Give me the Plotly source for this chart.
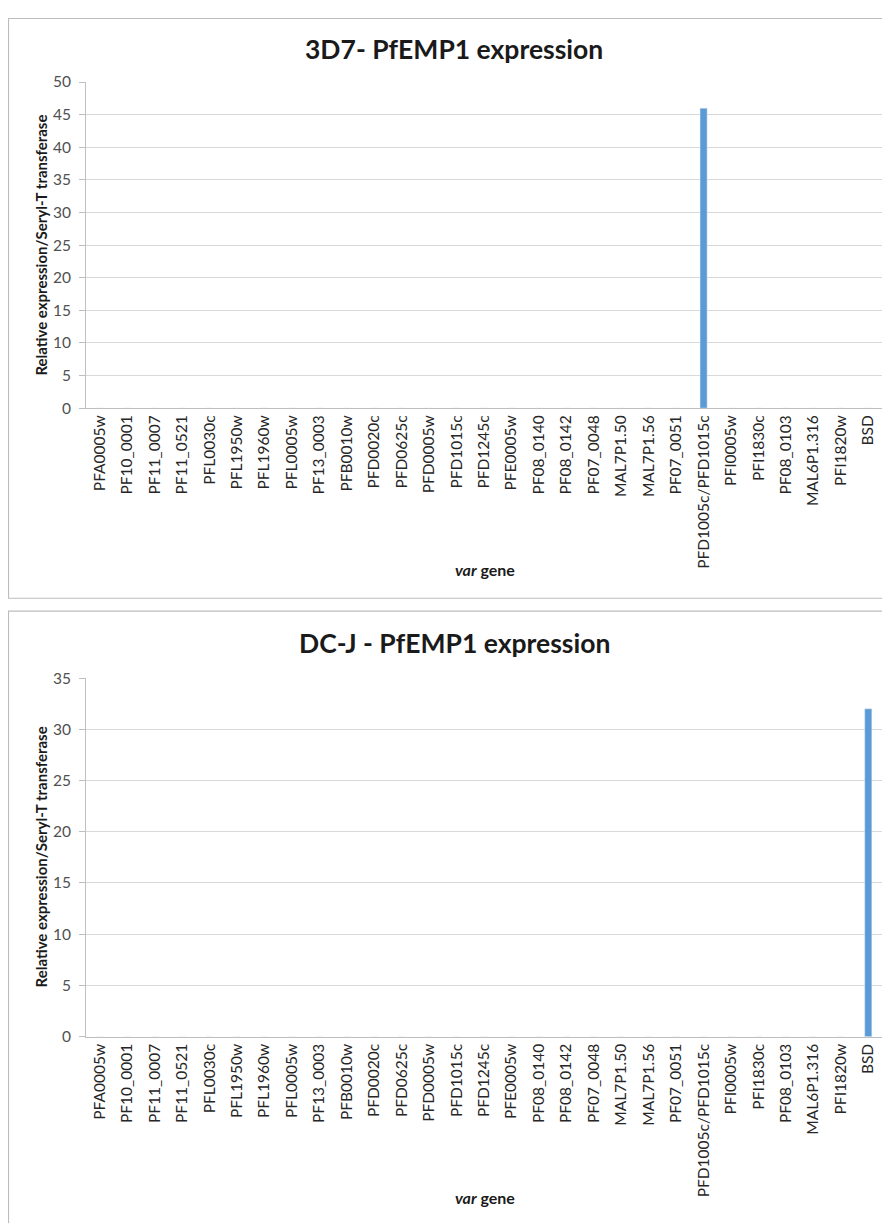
import plotly.graph_objects as go

genes = ["PFA0005w", "PF10_0001", "PF11_0007", "PF11_0521", "PFL0030c", "PFL1950w",
         "PFL1960w", "PFL0005w", "PF13_0003", "PFB0010w", "PFD0020c", "PFD0625c",
         "PFD0005w", "PFD1015c", "PFD1245c", "PFE0005w", "PF08_0140", "PF08_0142",
         "PF07_0048", "MAL7P1.50", "MAL7P1.56", "PF07_0051", "PFD1005c/PFD1015c",
         "PFI0005w", "PFI1830c", "PF08_0103", "MAL6P1.316", "PFI1820w", "BSD"]

expr_3d7 = [0, 0, 0, 0, 0, 0, 0, 0, 0, 0, 0, 0, 0, 0, 0, 0, 0, 0, 0, 0, 0, 0, 46,
            0, 0, 0, 0, 0, 0]
expr_dcj = [0, 0, 0, 0, 0, 0, 0, 0, 0, 0, 0, 0, 0, 0, 0, 0, 0, 0, 0, 0, 0, 0, 0,
            0, 0, 0, 0, 0, 32]

title_top = "3D7- PfEMP1 expression"
title_bot = "DC-J - PfEMP1 expression"
ytitle = "Relative expression/Seryl-T transferase"
xtitle = "<b><i>var</i> gene</b>"

# page body has an 8px margin: figure sized to fit the window
OFF = 8
W, H = 890 - 2 * OFF, 1231 - 2 * OFF
FONT = "Lato, 'Open Sans', sans-serif"
BAR = "#5B9BD5"
GRID = "#D9D9D9"
AXL = "#BFBFBF"

def py(ref_px):
    return 1 - (ref_px - OFF) / H

def px_x(ref_px):
    return (ref_px - OFF) / W

fig = go.Figure()
fig.add_trace(go.Bar(x=genes, y=expr_3d7, marker_color=BAR, width=0.26,
                     xaxis="x", yaxis="y", showlegend=False))
fig.add_trace(go.Bar(x=genes, y=expr_dcj, marker_color=BAR, width=0.26,
                     xaxis="x2", yaxis="y2", showlegend=False))

xdom = [px_x(86), min(1.0, px_x(882))]
xcommon = dict(tickangle=-90, tickfont=dict(family=FONT, size=15.5, color="#262626"),
               showline=True, linecolor=AXL, linewidth=1, showgrid=False,
               ticks="", fixedrange=True, domain=xdom)
ycommon = dict(dtick=5, tickfont=dict(family=FONT, size=15.5, color="#505050"),
               showline=True, linecolor=AXL, linewidth=1, gridcolor=GRID,
               gridwidth=1, ticks="outside", ticklen=6, tickcolor=AXL,
               ticklabelstandoff=5, zeroline=False, fixedrange=True)

fig.update_layout(
    width=W, height=H, margin=dict(l=0, r=0, t=0, b=0),
    paper_bgcolor="white", plot_bgcolor="white",
    bargap=0.7,
    xaxis=dict(**xcommon, anchor="y"),
    yaxis=dict(**ycommon, range=[0, 50], domain=[py(404), py(73)], anchor="x"),
    xaxis2=dict(**xcommon, anchor="y2"),
    yaxis2=dict(**ycommon, range=[0, 35], domain=[py(1042), py(678)], anchor="x2"),
)

# panel borders
fig.add_shape(type="rect", xref="paper", yref="paper",
              x0=px_x(8.5), x1=px_x(900), y0=py(597), y1=py(8.5),
              line=dict(color="#BDBDBD", width=1.2))
fig.add_shape(type="rect", xref="paper", yref="paper",
              x0=px_x(8.5), x1=px_x(900), y0=py(1250), y1=py(610),
              line=dict(color="#BDBDBD", width=1.2))

def ann(text, x, y, size, angle=0, color="#1a1a1a"):
    fig.add_annotation(text=text, xref="paper", yref="paper", x=px_x(x), y=py(y),
                       xanchor="center", yanchor="middle", showarrow=False,
                       textangle=angle, font=dict(family=FONT, size=size, color=color))

ann("<b>" + title_top + "</b>", 454, 39, 26.5)
ann("<b>" + title_bot + "</b>", 454, 642, 26.5)
ann("<b>" + ytitle + "</b>", 41, 239, 15, angle=-90)
ann("<b>" + ytitle + "</b>", 41, 860, 15, angle=-90)
ann(xtitle, 485, 568, 16)
ann(xtitle, 485, 1205, 16)

fig.write_html("out.html")
